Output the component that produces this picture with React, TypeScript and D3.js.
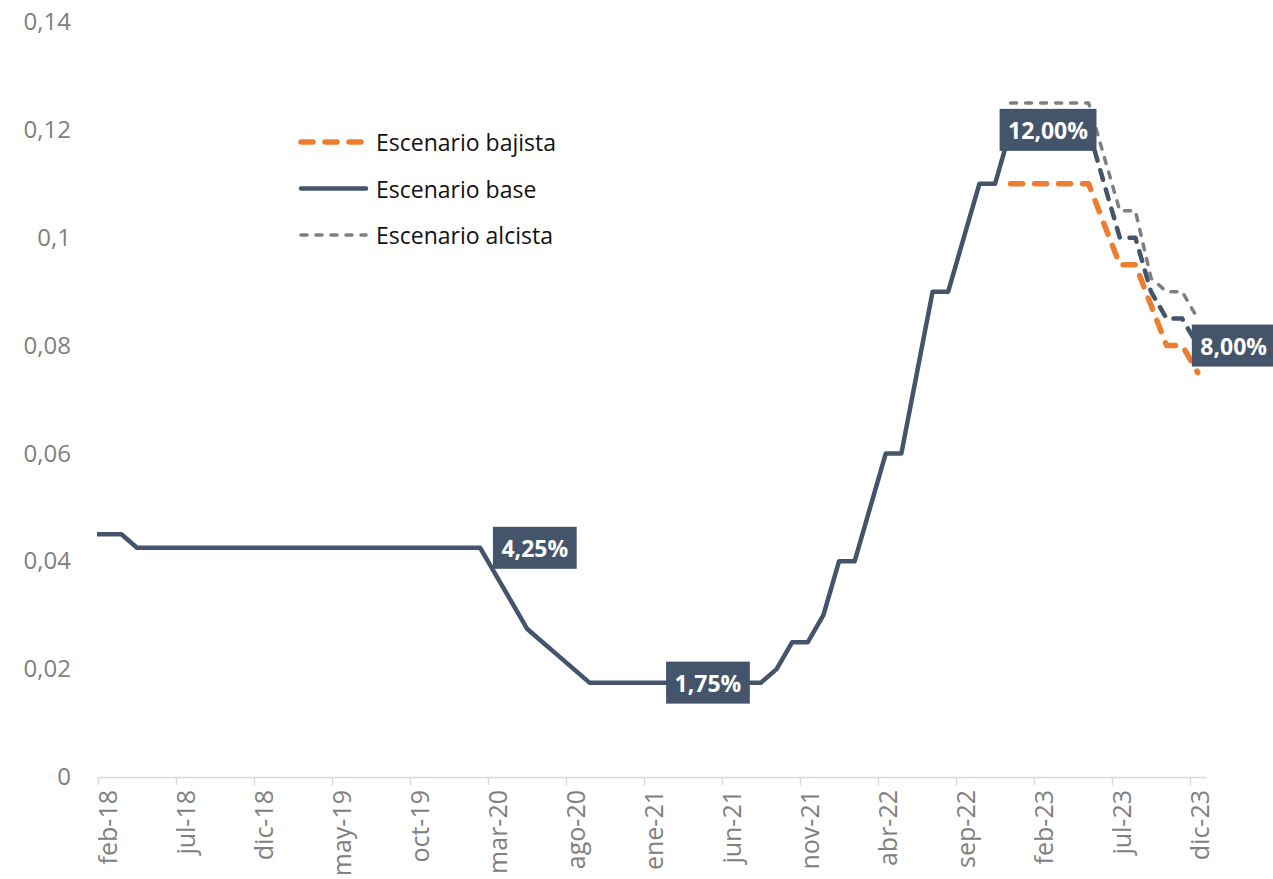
import React, { useEffect, useRef } from 'react';
import * as d3 from 'd3';

// etiquetas del eje X (cada 5 meses, desde feb-18)
const TICK_LABELS = [
    "feb-18", "jul-18", "dic-18", "may-19", "oct-19", "mar-20", "ago-20", "ene-21",
    "jun-21", "nov-21", "abr-22", "sep-22", "feb-23", "jul-23", "dic-23"
];
const Y_TICKS = [0, 0.02, 0.04, 0.06, 0.08, 0.1, 0.12, 0.14];

// tasa observada, fin de mes, ene-18 .. dic-22
const BASE_HIST = [
    0.045, 0.045, 0.045, 0.0425, 0.0425, 0.0425, 0.0425, 0.0425, 0.0425, 0.0425, 0.0425, 0.0425,
    0.0425, 0.0425, 0.0425, 0.0425, 0.0425, 0.0425, 0.0425, 0.0425, 0.0425, 0.0425, 0.0425, 0.0425,
    0.0425, 0.0425, 0.0375, 0.0325, 0.0275, 0.025, 0.0225, 0.02, 0.0175, 0.0175, 0.0175, 0.0175,
    0.0175, 0.0175, 0.0175, 0.0175, 0.0175, 0.0175, 0.0175, 0.0175, 0.02, 0.025, 0.025, 0.03,
    0.04, 0.04, 0.05, 0.06, 0.06, 0.075, 0.09, 0.09, 0.1, 0.11, 0.11, 0.12
];
const HIST_START = -1; // ene-18, relativo a feb-18

// proyecciones dic-22 .. dic-23
const BASE_PROJ = [0.12, 0.12, 0.12, 0.12, 0.12, 0.12, 0.11, 0.1, 0.1, 0.09, 0.085, 0.085, 0.08];
const BAJISTA = [0.11, 0.11, 0.11, 0.11, 0.11, 0.11, 0.1025, 0.095, 0.095, 0.0875, 0.08, 0.08, 0.075];
const ALCISTA = [0.125, 0.125, 0.125, 0.125, 0.125, 0.125, 0.115, 0.105, 0.105, 0.0925, 0.09, 0.09, 0.085];
const PROJ_START = 58; // dic-22

const LEGEND_ITEMS = ["Escenario bajista", "Escenario base", "Escenario alcista"];

const DATA_LABELS = [
    { text: "4,25%", month: 28.0, value: 0.0425 },
    { text: "1,75%", month: 39.1, value: 0.0175 },
    { text: "12,00%", month: 60.9, value: 0.12 },
    { text: "8,00%", month: 72.8, value: 0.08 }
];

const BASE_COLOR = "#44546A";
const BAJ_COLOR = "#ED7D31";
const ALC_COLOR = "#7F7F7F";

function PolicyRateChart() {
    const svgRef = useRef(null);
    const width = 1273;
    const height = 879;

    useEffect(() => {
        document.body.style.margin = "0";
        const svg = d3.select(svgRef.current);
        svg.selectAll("*").remove();

        const x = d3.scaleLinear().domain([0, 71]).range([98, 98 + 15.6 * 71]);
        const y = d3.scaleLinear().domain([0, 0.14]).range([777, 22]);

        const toPoints = (vals, start) => vals.map((v, i) => ({ m: start + i + 0.5, v }));

        const line = d3.line()
            .x(d => x(d.m))
            .y(d => y(d.v));

        svg.append("clipPath")
            .attr("id", "plot-clip")
            .append("rect")
            .attr("x", 97).attr("y", 0)
            .attr("width", width - 97).attr("height", height);

        // eje Y (solo etiquetas)
        const yAxis = d3.axisLeft(y)
            .tickValues(Y_TICKS)
            .tickSize(0)
            .tickPadding(27)
            .tickFormat(d => String(+d.toFixed(2)).replace(".", ","));
        const gy = svg.append("g")
            .attr("transform", "translate(98,0)")
            .call(yAxis);
        gy.select(".domain").remove();
        gy.selectAll("text")
            .attr("fill", "#808080")
            .style("font-family", "'Open Sans', sans-serif")
            .style("font-size", "24px");

        // eje X
        const xAxis = d3.axisBottom(x)
            .tickValues(d3.range(0, 71, 5))
            .tickFormat((d, i) => TICK_LABELS[i])
            .tickSize(8)
            .tickSizeOuter(0);
        const gx = svg.append("g")
            .attr("transform", "translate(0,777)")
            .call(xAxis);
        gx.select(".domain").attr("stroke", "#D9D9D9").attr("stroke-width", 1.5);
        gx.selectAll(".tick line").attr("stroke", "#D9D9D9").attr("stroke-width", 1.5);
        gx.selectAll("text")
            .attr("transform", "rotate(-90)")
            .attr("text-anchor", "end")
            .attr("x", -13)
            .attr("y", 0)
            .attr("dy", "0.72em")
            .attr("fill", "#808080")
            .style("font-family", "'Open Sans', sans-serif")
            .style("font-size", "25px");

        const plot = svg.append("g").attr("clip-path", "url(#plot-clip)");

        plot.append("path")
            .datum(toPoints(BAJISTA, PROJ_START))
            .attr("d", line)
            .attr("fill", "none")
            .attr("stroke", BAJ_COLOR)
            .attr("stroke-width", 5.5)
            .attr("stroke-linecap", "round")
            .attr("stroke-linejoin", "round")
            .attr("stroke-dasharray", "12 12");

        plot.append("path")
            .datum(toPoints(BASE_HIST, HIST_START))
            .attr("d", line)
            .attr("fill", "none")
            .attr("stroke", BASE_COLOR)
            .attr("stroke-width", 4.5)
            .attr("stroke-linejoin", "round");

        plot.append("path")
            .datum(toPoints(BASE_PROJ, PROJ_START))
            .attr("d", line)
            .attr("fill", "none")
            .attr("stroke", BASE_COLOR)
            .attr("stroke-width", 4.5)
            .attr("stroke-linecap", "round")
            .attr("stroke-linejoin", "round")
            .attr("stroke-dasharray", "10 10");

        plot.append("path")
            .datum(toPoints(ALCISTA, PROJ_START))
            .attr("d", line)
            .attr("fill", "none")
            .attr("stroke", ALC_COLOR)
            .attr("stroke-width", 3.5)
            .attr("stroke-linecap", "round")
            .attr("stroke-linejoin", "round")
            .attr("stroke-dasharray", "6 9");

        // etiquetas de datos
        DATA_LABELS.forEach(lbl => {
            const g = svg.append("g");
            const cx = x(lbl.month);
            const cy = y(lbl.value);
            const rect = g.append("rect").attr("fill", BASE_COLOR);
            const t = g.append("text")
                .attr("x", cx)
                .attr("y", cy)
                .attr("text-anchor", "middle")
                .attr("dominant-baseline", "central")
                .attr("fill", "white")
                .style("font-family", "'Open Sans', sans-serif")
                .style("font-weight", "bold")
                .style("font-size", "23px")
                .text(lbl.text);
            const w = t.node().getComputedTextLength() + 17;
            rect.attr("x", cx - w / 2).attr("y", cy - 21).attr("width", w).attr("height", 42);
        });

        // leyenda
        const legend = svg.append("g").attr("transform", "translate(298, 142)");
        const styles = [
            { color: BAJ_COLOR, width: 5.5, dash: "12 12", cap: "round" },
            { color: BASE_COLOR, width: 4.5, dash: null, cap: "round" },
            { color: ALC_COLOR, width: 3.5, dash: "6 9", cap: "round" }
        ];
        LEGEND_ITEMS.forEach((name, i) => {
            const row = legend.append("g").attr("transform", `translate(0, ${i * 46.5})`);
            row.append("line")
                .attr("x1", 3).attr("x2", 68)
                .attr("y1", 0).attr("y2", 0)
                .attr("stroke", styles[i].color)
                .attr("stroke-width", styles[i].width)
                .attr("stroke-linecap", styles[i].cap)
                .attr("stroke-dasharray", styles[i].dash);
            row.append("text")
                .attr("x", 78)
                .attr("y", 0)
                .attr("dominant-baseline", "central")
                .attr("fill", "#111")
                .style("font-family", "'Open Sans', sans-serif")
                .style("font-size", "23px")
                .text(name);
        });
    }, []);

    return (
        <svg ref={svgRef} width={width} height={height} style={{ display: "block", background: "white" }} />
    );
}

export default function App() {
    return <PolicyRateChart />;
}
